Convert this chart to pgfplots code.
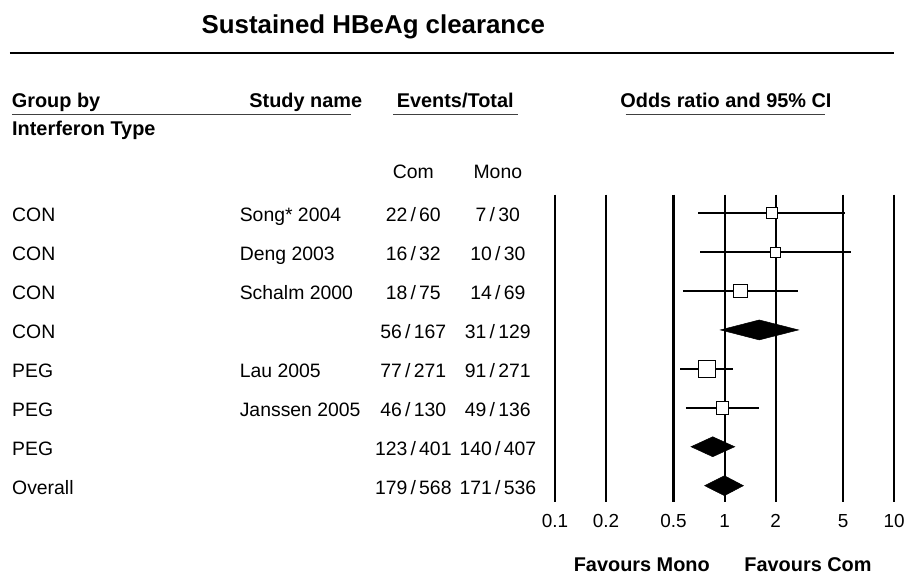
\documentclass[border=0pt]{standalone}
\usepackage{fontspec}
\setmainfont{Liberation Sans}
\usepackage{pgfplots}
\pgfplotsset{compat=1.18}
\newcommand{\bodyf}{\fontsize{19.5}{20}\selectfont}
\newcommand{\headf}{\fontsize{20}{22}\selectfont\bfseries}
\newcommand{\ev}[2]{#1\,/\,#2}
\begin{document}
\begin{tikzpicture}
\begin{scope}[x=1bp,y=-1bp]
\useasboundingbox (0,0) rectangle (908,588);
% title and rules
\node[anchor=base, inner sep=0, font=\fontsize{26}{28}\selectfont\bfseries] at (374,33.3) {Sustained HBeAg clearance};
\draw[line width=2.5bp] (10,53) -- (896,53);
% headers
\node[anchor=base west, inner sep=0, font=\headf] at (11.7,107.7) {Group by};
\node[anchor=base east, inner sep=0, font=\headf] at (363,107.7) {Study name};
\node[anchor=base, inner sep=0, font=\headf] at (456,107.7) {Events/Total};
\node[anchor=base, inner sep=0, font=\headf] at (727.2,107.7) {Odds ratio and 95\% CI};
\node[anchor=base west, inner sep=0, font=\headf] at (12,136) {Interferon Type};
\draw[line width=1.3bp, black!75] (12,114.5) -- (352,114.5);
\draw[line width=1.3bp, black!75] (394,114.5) -- (519,114.5);
\draw[line width=1.3bp, black!75] (626.7,114.5) -- (826,114.5);
\node[anchor=base, inner sep=0, font=\bodyf] at (414,178.7) {Com};
\node[anchor=base, inner sep=0, font=\bodyf] at (498.7,178.7) {Mono};
% rows
\foreach \y/\g/\s/\c/\m in {222/CON/Song* 2004/\ev{22}{60}/\ev{7}{30},
  261/CON/Deng 2003/\ev{16}{32}/\ev{10}{30},
  300/CON/Schalm 2000/\ev{18}{75}/\ev{14}{69},
  339/CON//\ev{56}{167}/\ev{31}{129},
  378/PEG/Lau 2005/\ev{77}{271}/\ev{91}{271},
  417/PEG/Janssen 2005/\ev{46}{130}/\ev{49}{136},
  456/PEG//\ev{123}{401}/\ev{140}{407},
  495/Overall//\ev{179}{568}/\ev{171}{536}}{
  \node[anchor=base west, inner sep=0, font=\bodyf] at (12,\y) {\g};
  \node[anchor=base west, inner sep=0, font=\bodyf] at (240,\y) {\s};
  \node[anchor=base, inner sep=0, font=\bodyf] at (414,\y) {\c};
  \node[anchor=base, inner sep=0, font=\bodyf] at (498.7,\y) {\m};
}
\node[anchor=base, inner sep=0, font=\headf] at (642.9,572) {Favours Mono};
\node[anchor=base, inner sep=0, font=\headf] at (809.4,572) {Favours Com};
\end{scope}
% forest plot
\begin{axis}[at={(556bp,-503bp)}, anchor=south west,
  scale only axis, width=339.7bp, height=308bp,
  xmode=log, xmin=0.1, xmax=10, ymin=-8.423, ymax=-0.526,
  axis line style={draw=none}, tick style={draw=none},
  major tick length=0pt, minor tick length=0pt,
  ytick=\empty, xtick={0.1,0.2,0.5,1,2,5,10},
  xticklabels={0.1,0.2,0.5,1,2,5,10}, minor xtick={},
  xticklabel style={font=\fontsize{19}{19}\selectfont, anchor=center, yshift=-18.7bp},
  clip=false]
% reference lines
\addplot[black, line width=1.4bp] coordinates {(0.1,-0.526) (0.1,-8.423)};
\addplot[black, line width=1.4bp] coordinates {(0.2,-0.526) (0.2,-8.423)};
\addplot[black, line width=2.2bp] coordinates {(0.5,-0.526) (0.5,-8.423)};
\addplot[black, line width=2.2bp] coordinates {(1,-0.526) (1,-8.423)};
\addplot[black, line width=2.2bp] coordinates {(2,-0.526) (2,-8.423)};
\addplot[black, line width=1.4bp] coordinates {(5,-0.526) (5,-8.423)};
\addplot[black, line width=1.4bp] coordinates {(10,-0.526) (10,-8.423)};
% confidence intervals
\addplot[black, line width=2.2bp] coordinates {(0.70,-1) (5.10,-1)};
\addplot[black, line width=2.2bp] coordinates {(0.72,-2) (5.55,-2)};
\addplot[black, line width=2.2bp] coordinates {(0.567,-3) (2.70,-3)};
\addplot[black, line width=2.2bp] coordinates {(0.549,-5) (1.12,-5)};
\addplot[black, line width=2.2bp] coordinates {(0.590,-6) (1.594,-6)};
% point estimates
\addplot[only marks, mark=square*, mark size=5.5bp, mark options={fill=white, draw=black, line width=1bp}] coordinates {(1.90,-1)};
\addplot[only marks, mark=square*, mark size=5bp, mark options={fill=white, draw=black, line width=1bp}] coordinates {(1.99,-2)};
\addplot[only marks, mark=square*, mark size=7bp, mark options={fill=white, draw=black, line width=1bp}] coordinates {(1.24,-3)};
\addplot[only marks, mark=square*, mark size=8.5bp, mark options={fill=white, draw=black, line width=1bp}] coordinates {(0.785,-5)};
\addplot[only marks, mark=square*, mark size=6.3bp, mark options={fill=white, draw=black, line width=1bp}] coordinates {(0.97,-6)};
% summary diamonds
\addplot[fill=black, draw=black, line width=0.5bp] coordinates {(0.945,-4) (1.60,-3.744) (2.73,-4) (1.60,-4.256)} -- cycle;
\addplot[fill=black, draw=black, line width=0.5bp] coordinates {(0.634,-7) (0.851,-6.744) (1.147,-7) (0.851,-7.256)} -- cycle;
\addplot[fill=black, draw=black, line width=0.5bp] coordinates {(0.763,-8) (0.997,-7.744) (1.29,-8) (0.997,-8.256)} -- cycle;
\end{axis}
\end{tikzpicture}
\end{document}
